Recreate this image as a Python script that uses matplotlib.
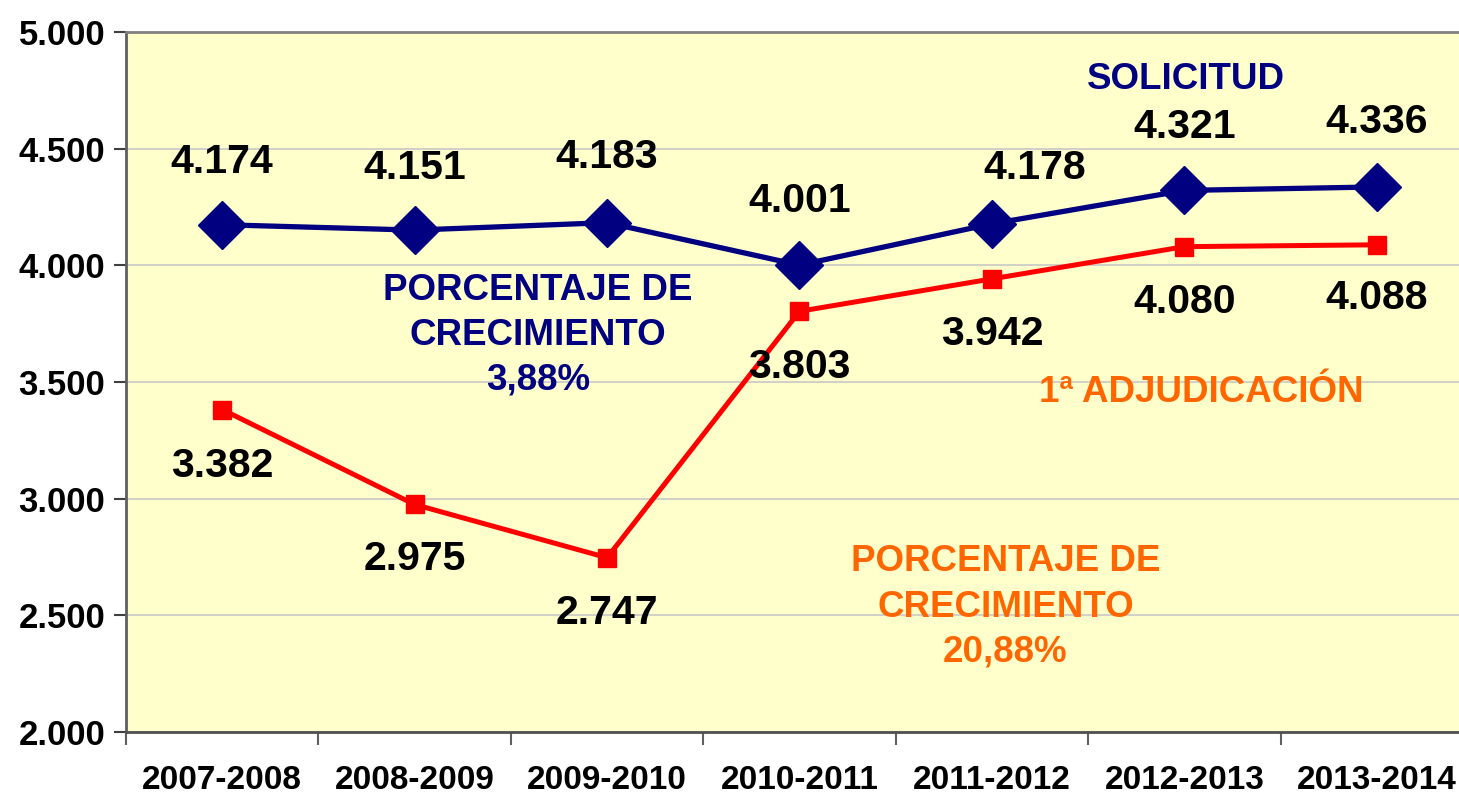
import numpy as np
import matplotlib
matplotlib.use('Agg')
import matplotlib.pyplot as plt

plt.rcParams['font.family'] = ['Liberation Sans', 'DejaVu Sans']
plt.rcParams['font.weight'] = 'bold'

# Datos
cursos = ['2007-2008', '2008-2009', '2009-2010', '2010-2011',
          '2011-2012', '2012-2013', '2013-2014']
solicitud = [4174, 4151, 4183, 4001, 4178, 4321, 4336]
adjudicacion = [3382, 2975, 2747, 3803, 3942, 4080, 4088]
y_ticks = [2000, 2500, 3000, 3500, 4000, 4500, 5000]

# desplazamientos de etiquetas (puntos)
off_sol = [(0, 45), (0, 45), (0, 47), (0, 46), (31, 40), (0, 46), (0, 47)]
off_adj = [(0, -41), (0, -39), (0, -40), (0, -40), (0, -40), (0, -40), (0, -38)]

NAVY = '#000080'
RED = '#FF0000'
ORANGE = '#FF6600'

fig = plt.figure(figsize=(14.59, 7.95), dpi=100)
ax = fig.add_axes([126 / 1459, 63 / 795, 1347 / 1459, 700 / 795])
ax.set_facecolor('#FFFFCC')

x = np.arange(len(cursos))
ax.plot(x, solicitud, color=NAVY, lw=3.8, marker='D', ms=24,
        markerfacecolor=NAVY, markeredgecolor=NAVY, zorder=3)
ax.plot(x, adjudicacion, color=RED, lw=3.6, marker='s', ms=13.5,
        markerfacecolor=RED, markeredgecolor=RED, zorder=3)

def fmt(v):
    return f'{v:,}'.replace(',', '.')

for i, v in enumerate(solicitud):
    ax.annotate(fmt(v), (x[i], v), xytext=off_sol[i], textcoords='offset points',
                ha='center', va='center', fontsize=29.5, fontweight='bold', color='black')
for i, v in enumerate(adjudicacion):
    ax.annotate(fmt(v), (x[i], v), xytext=off_adj[i], textcoords='offset points',
                ha='center', va='center', fontsize=29.5, fontweight='bold', color='black')

ax.text(5.01, 4798, 'SOLICITUD', color=NAVY, fontsize=26.5, fontweight='bold',
        ha='center', va='center')
ax.text(1.64, 3700, 'PORCENTAJE DE\nCRECIMIENTO\n3,88%', color=NAVY, fontsize=26.5,
        fontweight='bold', ha='center', va='center', linespacing=1.36)
ax.text(5.09, 3455, '1ª ADJUDICACIÓN', color=ORANGE, fontsize=26.5, fontweight='bold',
        ha='center', va='center')
ax.text(4.07, 2535, 'PORCENTAJE DE\nCRECIMIENTO\n20,88%', color=ORANGE, fontsize=26.5,
        fontweight='bold', ha='center', va='center', linespacing=1.38)

ax.set_ylim(2000, 5000)
ax.set_xlim(-0.5, len(cursos) - 0.5)
ax.set_yticks(y_ticks)
ax.set_yticklabels([fmt(v) for v in y_ticks], fontsize=25, fontweight='bold')
ax.set_xticks(x)
ax.set_xticklabels(cursos, fontsize=24, fontweight='bold')
ax.tick_params(axis='x', length=0, pad=24)
ax.set_xticks(np.arange(-0.5, len(cursos) - 1), minor=True)
ax.tick_params(axis='x', which='minor', length=9, width=1.5, color='#606060')
ax.tick_params(axis='y', length=9, width=1.5, color='#404040', pad=6)

ax.grid(axis='y', color='#C8C8C8', lw=1.2)
ax.set_axisbelow(True)
ax.spines['left'].set_color('#606060')
ax.spines['left'].set_linewidth(2)
ax.spines['bottom'].set_color('#505050')
ax.spines['bottom'].set_linewidth(2)
ax.spines['top'].set_color('#808080')
ax.spines['top'].set_linewidth(2)
ax.spines['right'].set_visible(False)

fig.savefig('out.png', dpi=100)
